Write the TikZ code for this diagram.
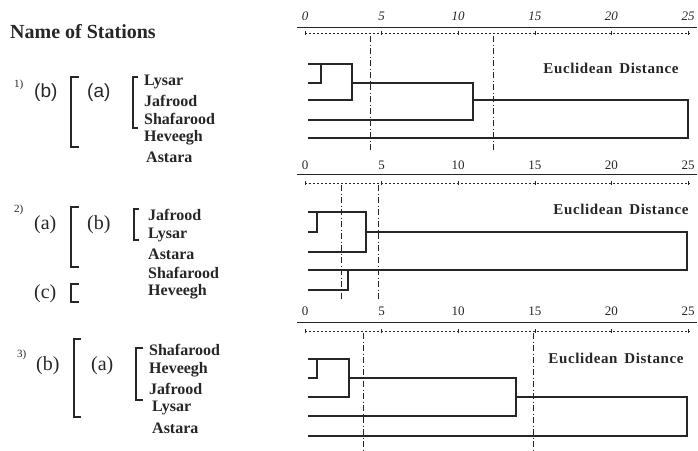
\documentclass[tikz,border=0pt]{standalone}
\usepackage{fontspec}
\setmainfont{Liberation Serif}
\newfontfamily\sansf{Liberation Sans}
\definecolor{ink}{HTML}{262626}
\begin{document}
\begin{tikzpicture}[x=1pt,y=-1pt,
  station/.style={font=\bfseries\fontsize{16}{16}\selectfont, anchor=west, inner sep=0pt, text=ink},
  title/.style={font=\bfseries\fontsize{20}{20}\selectfont, anchor=west, inner sep=0pt, text=ink},
  grp/.style={font=\fontsize{20}{20}\selectfont, anchor=west, inner sep=0pt, text=ink},
  grps/.style={font=\sansf\fontsize{19}{19}\selectfont, anchor=west, inner sep=0pt, text=ink},
  num/.style={font=\fontsize{11}{11}\selectfont, anchor=west, inner sep=0pt, text=ink},
  scalenum/.style={font=\fontsize{13}{13}\selectfont, inner sep=0pt, text=ink},
  euc/.style={font=\bfseries\fontsize{15}{15}\selectfont\addfontfeatures{LetterSpace=4}, inner sep=0pt, text=ink},
  den/.style={draw=ink, line width=1.3pt},
  brk/.style={draw=ink, line width=1.1pt},
  axis/.style={draw=ink, line width=0.9pt},
  dotax/.style={draw=ink, line width=0.6pt, dash pattern=on 1.5pt off 2.5pt},
  cut/.style={draw=ink, line width=0.7pt, dash pattern=on 6pt off 2.5pt on 1pt off 2.5pt}]
\useasboundingbox (0,0) rectangle (698,450);

% ---------- left side ----------
\node[title] (head) at (10,32) {Name of Stations};

% panel 1
\node[num] (n1) at (14,85) {1)};
\node[grps] (g1b) at (34,93) {(b)};
\node[grps] (g1a) at (87,93) {(a)};
\draw[brk] (79,77) -- (71,77) -- (71,147) -- (79,147);
\draw[brk] (138,77) -- (133,77) -- (133,128) -- (138,128);
\node[station] (s11) at (144,82) {Lysar};
\node[station] (s12) at (144,101) {Jafrood};
\node[station] (s13) at (144,119) {Shafarood};
\node[station] (s14) at (144,138) {Heveegh};
\node[station] (s15) at (146,157) {Astara};

% panel 2
\node[num] (n2) at (14,210) {2)};
\node[grp] (g2a) at (34,225) {(a)};
\node[grp] (g2b) at (87,225) {(b)};
\node[grp] (g2c) at (34,294) {(c)};
\draw[brk] (79,207) -- (71,207) -- (71,267) -- (79,267);
\draw[brk] (139,209) -- (134,209) -- (134,240) -- (139,240);
\draw[brk] (79,284) -- (71,284) -- (71,302) -- (79,302);
\node[station] (s21) at (148,215) {Jafrood};
\node[station] (s22) at (148,235) {Lysar};
\node[station] (s23) at (148,254) {Astara};
\node[station] (s24) at (148,273) {Shafarood};
\node[station] (s25) at (148,292) {Heveegh};

% panel 3
\node[num] (n3) at (17,355) {3)};
\node[grp] (g3b) at (36,366) {(b)};
\node[grp] (g3a) at (91,366) {(a)};
\draw[brk] (81,339) -- (74,339) -- (74,417) -- (81,417);
\draw[brk] (143,348) -- (136,348) -- (136,400) -- (143,400);
\node[station] (s31) at (149,350) {Shafarood};
\node[station] (s32) at (149,370) {Heveegh};
\node[station] (s33) at (149,389) {Jafrood};
\node[station] (s34) at (152,408) {Lysar};
\node[station] (s35) at (152,428) {Astara};

% ---------- axes ----------
\foreach \p/\ny/\ly/\dy in {1/16/27/33, 2/165/174/183, 3/311/322/331}{
  \draw[axis] (297,\ly) -- (697,\ly);
  \draw[dotax] (305,\dy) -- (690,\dy);
  \foreach \k in {0,5,...,25}{
    \node[scalenum] (sc\p-\k) at ({305+15.32*\k},\ny) {\ifnum\p=1 \itshape\fi\k};
    \draw[ink, line width=0.6pt] ({305+15.32*\k},{\dy-2}) -- ({305+15.32*\k},{\dy+2});
  }
}

% ---------- panel 1 dendrogram ----------
\draw[cut] (370,36) -- (370,150);
\draw[cut] (493,36) -- (493,150);
\draw[den] (308,64) -- (352,64) -- (352,100) -- (308,100);
\draw[den] (308,83) -- (321,83) -- (321,64);
\draw[den] (352,83) -- (473,83) -- (473,120) -- (308,120);
\draw[den] (473,100) -- (688,100) -- (688,138) -- (308,138);
\node[euc] (e1) at (611,68) {Euclidean\, Distance};

% ---------- panel 2 dendrogram ----------
\draw[cut] (341,185) -- (341,300);
\draw[cut] (378,185) -- (378,300);
\draw[den] (308,212) -- (366,212) -- (366,252) -- (308,252);
\draw[den] (308,232) -- (317,232) -- (317,212);
\draw[den] (366,232) -- (687,232) -- (687,270) -- (308,270);
\draw[den] (308,290) -- (348,290) -- (348,270);
\node[euc] (e2) at (621,209) {Euclidean\, Distance};

% ---------- panel 3 dendrogram ----------
\draw[cut] (363,333) -- (363,450);
\draw[cut] (533,333) -- (533,450);
\draw[den] (308,359) -- (349,359) -- (349,397) -- (308,397);
\draw[den] (308,378) -- (317,378) -- (317,359);
\draw[den] (349,378) -- (516,378) -- (516,416) -- (308,416);
\draw[den] (516,397) -- (687,397) -- (687,436) -- (308,436);
\node[euc] (e3) at (616,358) {Euclidean\, Distance};
\end{tikzpicture}
\end{document}
